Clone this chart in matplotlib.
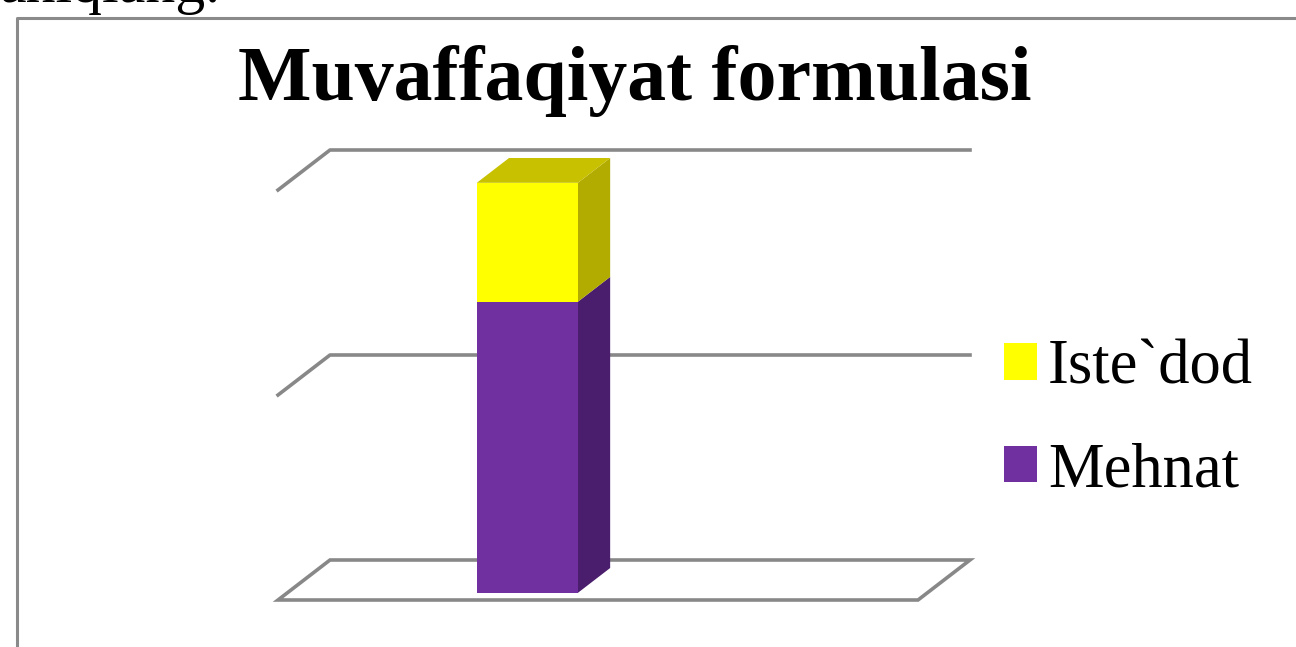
import matplotlib.pyplot as plt
import matplotlib.transforms as mtransforms
from matplotlib.patches import Polygon
from matplotlib.lines import Line2D
import numpy as np

# data
categories = [0]
series_names = ["Mehnat", "Iste`dod"]
mehnat = [71]
istedod = [29]
gridlines = [0, 50, 100]
title = "Muvaffaqiyat formulasi"
page_text = "aniqlang."

front_colors = ["#7030A0", "#FFFF00"]
side_colors = ["#4A1E6C", "#B2AB00"]
top_colors = ["#5A2885", "#C8C100"]
grid_color = "#888888"

W, H = 1296, 647
fig = plt.figure(figsize=(W / 100, H / 100), dpi=100)
fig.patch.set_facecolor("white")

# front plane of the 3d box
ax = fig.add_axes([278 / W, 47 / H, 640 / W, 410 / H])
ax.set_xlim(-0.375, 0.625)
ax.set_ylim(0, 100)
ax.axis("off")

depth = np.array([52.0, 40.0])  # oblique depth vector in pixels
bar_d0, bar_d1 = 0.18, 0.80
bar_w = 0.158
ident = mtransforms.IdentityTransform()


def proj(x, y, d):
    return ax.transData.transform((x, y)) + d * depth


# floor and back wall gridlines
x0, x1 = ax.get_xlim()
floor = [proj(x0, gridlines[0], 0), proj(x1, gridlines[0], 0),
         proj(x1, gridlines[0], 1), proj(x0, gridlines[0], 1)]
ax.add_patch(Polygon(floor, closed=True, facecolor="white", edgecolor=grid_color,
                     lw=2.6, transform=ident, clip_on=False, zorder=1))
for v in gridlines[1:]:
    pts = np.array([proj(x0, v, 0), proj(x0, v, 1), proj(x1, v, 1)])
    ax.add_line(Line2D(pts[:, 0], pts[:, 1], color=grid_color, lw=2.6,
                       transform=ident, clip_on=False, zorder=1))

# stacked 3d bar
front_tr = mtransforms.offset_copy(ax.transData, fig, x=bar_d0 * depth[0],
                                   y=bar_d0 * depth[1], units="dots")
handles = []
bottom = np.zeros(len(categories))
series = [mehnat, istedod]
for i, vals in enumerate(series):
    vals = np.array(vals, dtype=float)
    bars = ax.bar(categories, vals, bar_w, bottom=bottom, color=front_colors[i],
                  label=series_names[i], transform=front_tr, clip_on=False,
                  zorder=3, linewidth=0)
    handles.append(bars)
    for c, b, v in zip(categories, bottom, vals):
        xr = c + bar_w / 2
        xl = c - bar_w / 2
        side = [proj(xr, b, bar_d0), proj(xr, b + v, bar_d0),
                proj(xr, b + v, bar_d1), proj(xr, b, bar_d1)]
        ax.add_patch(Polygon(side, closed=True, facecolor=side_colors[i], lw=0,
                             transform=ident, clip_on=False, zorder=2))
        if i == len(series) - 1:
            top = [proj(xl, b + v, bar_d0), proj(xr, b + v, bar_d0),
                   proj(xr, b + v, bar_d1), proj(xl, b + v, bar_d1)]
            ax.add_patch(Polygon(top, closed=True, facecolor=top_colors[i], lw=0,
                                 transform=ident, clip_on=False, zorder=2))
    bottom = bottom + vals

# legend
fig.legend(handles[::-1], series_names[::-1], loc="center left",
           bbox_to_anchor=(1004 / W, 227 / H), frameon=False,
           prop=dict(family="Liberation Serif", size=45),
           handlelength=0.53, handleheight=0.53, handletextpad=0.17,
           labelspacing=0.71, borderpad=0, borderaxespad=0)

# title and chart border
fig.text(635 / W, 547 / H, title, ha="center", va="baseline", fontsize=56,
         fontweight="bold", family="Liberation Serif")
fig.add_artist(Line2D([17 / W, 17 / W, 1.01], [-0.01, 629 / H, 629 / H],
                      color="#8a8a8a", lw=2.2, transform=fig.transFigure))

# cut off text of the page above the chart
fig.text(0, 645 / H, page_text, ha="left", va="baseline", fontsize=43,
         family="Liberation Serif")

fig.savefig("out.png", dpi=100)
